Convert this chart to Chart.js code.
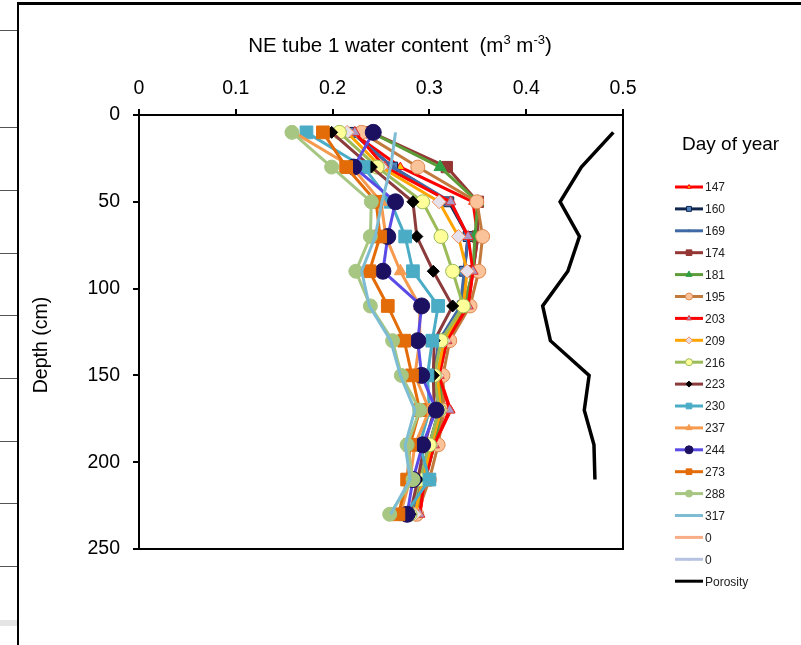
<!DOCTYPE html>
<html>
<head>
<meta charset="utf-8">
<script src="https://cdn.jsdelivr.net/npm/chart.js@4.4.1/dist/chart.umd.min.js"></script>
<style>
  html, body { margin: 0; padding: 0; background: #fff; }
  #wrap { position: relative; width: 801px; height: 645px; overflow: hidden; }
  #frameTop { position: absolute; left: 17px; top: 2px; width: 790px; height: 3px; background: #000; }
  #frameLeft { position: absolute; left: 17px; top: 2px; width: 2px; height: 650px; background: #000; }
  .stub { position: absolute; left: 0; width: 17px; height: 1px; background: #555; }
  #grayBar { position: absolute; left: 0; top: 620px; width: 17px; height: 6px; background: #e4e4e4; }
  canvas { position: absolute; left: 0; top: 0; }
</style>
</head>
<body>
<div id="wrap">
  <div id="frameTop"></div>
  <div id="frameLeft"></div>
  <div class="stub" style="top:30px"></div>
  <div class="stub" style="top:127px"></div>
  <div class="stub" style="top:190px"></div>
  <div class="stub" style="top:253px"></div>
  <div class="stub" style="top:315px"></div>
  <div class="stub" style="top:378px"></div>
  <div class="stub" style="top:441px"></div>
  <div class="stub" style="top:503px"></div>
  <div class="stub" style="top:566px"></div>
  <div id="grayBar"></div>
  <canvas id="chart" width="801" height="645"></canvas>
</div>
<script>
"use strict";

// depth of each reading (cm)
const depths = [10, 30, 50, 70, 90, 110, 130, 150, 170, 190, 210, 230];
const porosityDepths = [10, 30, 50, 70, 90, 110, 130, 150, 170, 190, 210];

// water content (m3 m-3) per day of year
const d147 = [0.22, 0.27, 0.345, 0.35, 0.345, 0.34, 0.318, 0.31, 0.322, 0.305, 0.296, 0.29];
const d160 = [0.22, 0.262, 0.32, 0.34, 0.336, 0.334, 0.31, 0.305, 0.31, 0.3, 0.29, 0.284];
const d169 = [0.22, 0.262, 0.322, 0.34, 0.336, 0.332, 0.31, 0.305, 0.31, 0.3, 0.29, 0.284];
const d174 = [0.24, 0.318, 0.35, 0.35, 0.345, 0.336, 0.315, 0.31, 0.315, 0.305, 0.295, 0.285];
const d181 = [0.24, 0.311, 0.35, 0.347, 0.345, 0.336, 0.315, 0.31, 0.315, 0.305, 0.295, 0.285];
const d195 = [0.23, 0.288, 0.349, 0.355, 0.351, 0.342, 0.321, 0.314, 0.315, 0.309, 0.3, 0.287];
const d203 = [0.223, 0.254, 0.322, 0.34, 0.345, 0.34, 0.318, 0.31, 0.321, 0.305, 0.295, 0.29];
const d209 = [0.215, 0.25, 0.31, 0.33, 0.339, 0.335, 0.315, 0.308, 0.312, 0.302, 0.293, 0.285];
const d216 = [0.207, 0.246, 0.293, 0.312, 0.324, 0.335, 0.312, 0.305, 0.31, 0.3, 0.29, 0.28];
const d223 = [0.199, 0.24, 0.283, 0.287, 0.304, 0.324, 0.305, 0.304, 0.305, 0.295, 0.288, 0.28];
const d230 = [0.173, 0.232, 0.26, 0.275, 0.283, 0.309, 0.303, 0.298, 0.3, 0.29, 0.3, 0.275];
const d237 = [0.16, 0.22, 0.25, 0.255, 0.27, 0.29, 0.29, 0.285, 0.3, 0.285, 0.28, 0.27];
const d244 = [0.242, 0.222, 0.265, 0.257, 0.252, 0.292, 0.288, 0.292, 0.307, 0.293, 0.283, 0.277];
const d273 = [0.19, 0.214, 0.245, 0.249, 0.238, 0.257, 0.274, 0.282, 0.29, 0.28, 0.277, 0.268];
const d288 = [0.158, 0.199, 0.24, 0.239, 0.224, 0.239, 0.262, 0.271, 0.29, 0.277, 0.283, 0.259];
const d317 = [0.265, 0.26, 0.251, 0.244, 0.23, 0.238, 0.26, 0.27, 0.285, 0.275, 0.28, 0.26];
const zeroA = [];
const zeroB = [];
const porosity = [0.49, 0.457, 0.435, 0.455, 0.443, 0.417, 0.425, 0.465, 0.46, 0.47, 0.471];

const xTicks = [0, 0.1, 0.2, 0.3, 0.4, 0.5];
const yTicks = [0, 50, 100, 150, 200, 250];
const titleParts = [['NE tube 1 water content  (m', 0], ['3', 1], [' m', 0], ['-3', 1], [')', 0]];
const legendTitle = 'Day of year';

const FONT = '"Liberation Sans", Arial, sans-serif';

function pts(vals, ys) {
  return vals.map((v, i) => ({ x: v, y: (ys || depths)[i] }));
}

function series(label, vals, line, style, radius, fill, border) {
  return {
    label,
    data: pts(vals),
    borderColor: line,
    backgroundColor: fill || line,
    pointBorderColor: border || line,
    pointBackgroundColor: fill || line,
    pointStyle: style || false,
    pointRadius: style ? radius : 0,
    pointBorderWidth: 1,
    borderWidth: 3,
    showLine: true,
    legendRadius: style ? Math.min(radius * 0.5, 4) : 0
  };
}

const datasets = [
  series('147', d147, '#ff0000', 'triangle', 5, '#ffc000', '#ff0000'),
  series('160', d160, '#10264f', 'rect', 7, '#4f81bd', '#10264f'),
  series('169', d169, '#4069a6', 'circle', 2),
  series('174', d174, '#943634', 'rect', 8),
  series('181', d181, '#5e9c3a', 'triangle', 7, '#2ea043', '#2ea043'),
  series('195', d195, '#c27a3c', 'circle', 7, '#fac39a', '#e08850'),
  series('203', d203, '#ff0000', 'triangle', 6, '#a99ac8', '#e03030'),
  series('209', d209, '#ffa400', 'rectRot', 7, '#e6e0ea', '#f09060'),
  series('216', d216, '#9bbb59', 'circle', 7, '#ffff99', '#9bbb59'),
  series('223', d223, '#8b3b3b', 'rectRot', 6, '#000000', '#000000'),
  series('230', d230, '#4bacc6', 'rect', 9, '#4bacc6'),
  series('237', d237, '#f59a4e', 'triangle', 7, '#f59a4e'),
  series('244', d244, '#5a4be6', 'circle', 8, '#1c1060', '#1c1060'),
  series('273', d273, '#e36c09', 'rect', 9, '#e36c09'),
  series('288', d288, '#a6c682', 'circle', 7, '#a6c682'),
  series('317', d317, '#7dbcd3'),
  series('0', zeroA, '#f9ad85'),
  series('0', zeroB, '#b7c3e2', 'circle', 2),
];
const poro = series('Porosity', porosity, '#000000');
poro.data = pts(porosity, porosityDepths);
poro.borderWidth = 3.5;
datasets.push(poro);
// later series sit on top, as in the original
datasets.forEach((ds, i) => { ds.order = datasets.length - i; });

const decor = {
  id: 'decor',
  afterDatasetsDraw(chart) {
    const { ctx, chartArea: a } = chart;
    ctx.save();
    ctx.strokeStyle = '#000';
    ctx.lineWidth = 2;
    ctx.strokeRect(a.left, a.top, a.right - a.left, a.bottom - a.top);
    ctx.restore();
  },
  afterDraw(chart) {
    const ctx = chart.ctx;
    ctx.save();
    ctx.fillStyle = '#000';
    ctx.textBaseline = 'alphabetic';
    ctx.textAlign = 'left';

    // top title with superscripts
    let w = 0;
    titleParts.forEach(([t, sup]) => {
      ctx.font = (sup ? 13 : 20.5) + 'px ' + FONT;
      w += ctx.measureText(t).width;
    });
    let x = 400 - w / 2;
    titleParts.forEach(([t, sup]) => {
      ctx.font = (sup ? 13 : 20.5) + 'px ' + FONT;
      ctx.fillText(t, x, sup ? 44 : 52);
      x += ctx.measureText(t).width;
    });

    // y title
    ctx.save();
    ctx.translate(47, 345);
    ctx.rotate(-Math.PI / 2);
    ctx.font = '19.5px ' + FONT;
    ctx.textAlign = 'center';
    ctx.fillText('Depth (cm)', 0, 0);
    ctx.restore();

    // legend
    ctx.font = '19px ' + FONT;
    ctx.fillText(legendTitle, 682, 150);
    ctx.font = '12px ' + FONT;
    ctx.textBaseline = 'middle';
    chart.data.datasets.forEach((ds, i) => {
      const y = 187 + i * 21.9;
      ctx.strokeStyle = ds.borderColor;
      ctx.lineWidth = 3;
      ctx.beginPath();
      ctx.moveTo(675, y);
      ctx.lineTo(703, y);
      ctx.stroke();
      if (ds.pointStyle) {
        ctx.fillStyle = ds.pointBackgroundColor;
        ctx.strokeStyle = ds.pointBorderColor;
        ctx.lineWidth = 1;
        Chart.helpers.drawPoint(ctx, { pointStyle: ds.pointStyle, radius: ds.legendRadius, borderWidth: 1, rotation: 0 }, 689, y);
      }
      ctx.fillStyle = '#222';
      ctx.fillText(ds.label, 705, y + 1);
    });
    ctx.restore();
  }
};

new Chart(document.getElementById('chart'), {
  type: 'scatter',
  data: { datasets },
  plugins: [decor],
  options: {
    responsive: false,
    animation: false,
    events: [],
    layout: { padding: { left: 0, top: 0, right: 178, bottom: 96 } },
    plugins: { legend: { display: false }, tooltip: { enabled: false } },
    scales: {
      x: {
        type: 'linear',
        position: 'top',
        min: 0,
        max: 0.5,
        afterBuildTicks: s => { s.ticks = xTicks.map(v => ({ value: v })); },
        afterFit: s => { s.height = 115; },
        ticks: { color: '#000', padding: 9, font: { family: FONT, size: 19.5 }, callback: v => String(v) },
        grid: { drawOnChartArea: false, color: '#000', lineWidth: 2, tickLength: 6 },
        border: { color: '#000', width: 2 }
      },
      y: {
        type: 'linear',
        reverse: true,
        min: 0,
        max: 250,
        afterBuildTicks: s => { s.ticks = yTicks.map(v => ({ value: v })); },
        afterFit: s => { s.width = 139; },
        ticks: { color: '#000', padding: 13, font: { family: FONT, size: 19.5 } },
        grid: { drawOnChartArea: false, color: '#000', lineWidth: 2, tickLength: 6 },
        border: { color: '#000', width: 2 }
      }
    }
  }
});
</script>
</body>
</html>
